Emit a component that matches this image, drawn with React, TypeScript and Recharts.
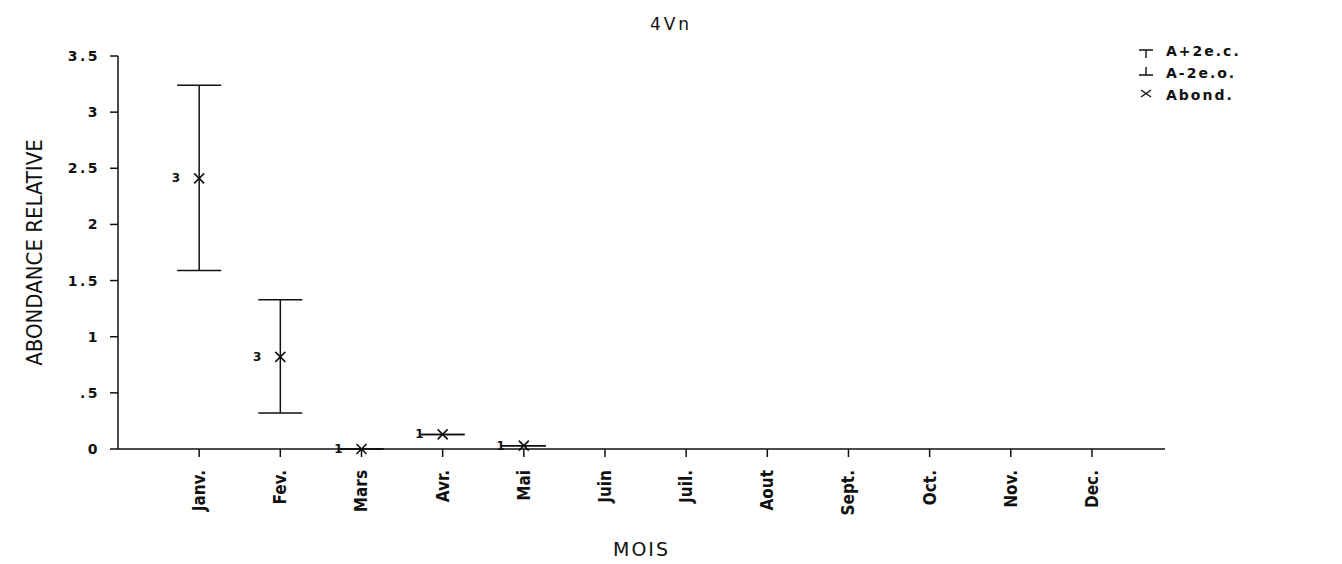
import { ComposedChart, Scatter, ErrorBar, XAxis, YAxis } from "recharts";

const months = ["Janv.", "Fev.", "Mars", "Avr.", "Mai", "Juin", "Juil.", "Aout", "Sept.", "Oct.", "Nov.", "Dec."];
const abond = [2.41, 0.82, 0, 0.13, 0.03];
const upper = [3.24, 1.33, 0, 0.13, 0.03];
const lower = [1.59, 0.32, 0, 0.13, 0.03];
const counts = [3, 3, 1, 1, 1];
const yTicks = [0, 0.5, 1, 1.5, 2, 2.5, 3, 3.5];
const legendItems = ["A+2e.c.", "A-2e.o.", "Abond."];

const data = abond.map((v, i) => ({
  x: i + 1,
  y: v,
  err: [v - lower[i], upper[i] - v],
  n: counts[i],
}));

const tickFont = { fontFamily: "DejaVu Sans", fontWeight: 700, fontSize: 14, fill: "#111", letterSpacing: 2.5 };

const fmtY = (v: number) => (v === 0 ? "0" : v < 1 ? String(v).replace(/^0/, "") : String(v));

function Cross(props: any) {
  const { cx, cy, payload } = props;
  if (cx == null || cy == null) return null;
  const s = 5;
  return (
    <g>
      <path d={`M${cx - s},${cy - s}L${cx + s},${cy + s}M${cx - s},${cy + s}L${cx + s},${cy - s}`} stroke="#111" strokeWidth={1.6} />
      <text x={cx - 19} y={cy + 4} textAnchor="end" style={{ ...tickFont, fontSize: 12, letterSpacing: 0 }}>
        {payload.n}
      </text>
    </g>
  );
}

function MonthTick(props: any) {
  const { x, y, payload } = props;
  return (
    <text
      x={x + 6}
      y={y + 11}
      transform={`rotate(-90 ${x + 6} ${y + 11})`}
      textAnchor="end"
      style={{ fontFamily: "DejaVu Sans Condensed", fontWeight: 700, fontSize: 17, fill: "#111" }}
    >
      {months[payload.value - 1]}
    </text>
  );
}

function LegendBox() {
  return (
    <svg width={210} height={80} style={{ position: "absolute", top: 40, left: 1136 }}>
      <g stroke="#111" strokeWidth={1.4}>
        <path d="M3,10L17,10M10,10L10,18" />
        <path d="M3,35L17,35M10,35L10,27" />
        <path d="M5,50L15,57M5,57L15,50" />
      </g>
      {legendItems.map((t, i) => (
        <text key={t} x={30} y={16 + i * 22} style={{ ...tickFont, fontSize: 14, letterSpacing: 2 }}>
          {t}
        </text>
      ))}
    </svg>
  );
}

export default function App() {
  return (
    <div style={{ width: 1342, height: 564, background: "#fff", position: "relative" }}>
      <style>{`body{margin:0}`}</style>
      <ComposedChart width={1342} height={564} margin={{ top: 56, right: 177, left: 0, bottom: 0 }}>
        <XAxis
          type="number"
          dataKey="x"
          domain={[0, 12.9]}
          ticks={months.map((_, i) => i + 1)}
          interval={0}
          tick={<MonthTick />}
          tickSize={8}
          height={115}
          stroke="#111"
          strokeWidth={1.5}
          label={{ value: "MOIS", position: "insideBottom", offset: 8, style: { fontFamily: "DejaVu Sans", fontSize: 19, fill: "#111", letterSpacing: 2 } }}
        />
        <YAxis
          type="number"
          domain={[0, 3.5]}
          ticks={yTicks}
          tickFormatter={fmtY}
          tick={tickFont}
          tickSize={8}
          tickMargin={10}
          width={118}
          stroke="#111"
          strokeWidth={1.5}
          label={{
            value: "ABONDANCE RELATIVE",
            angle: -90,
            position: "insideLeft",
            offset: 34,
            style: { textAnchor: "middle", fontFamily: "DejaVu Sans Condensed", fontSize: 22, fill: "#111" },
          }}
        />
        <Scatter data={data} dataKey="y" shape={<Cross />} isAnimationActive={false} legendType="none">
          <ErrorBar dataKey="err" direction="y" width={22} stroke="#111" strokeWidth={1.5} />
        </Scatter>
      </ComposedChart>
      <LegendBox />
      <div style={{ position: "absolute", top: 14, left: 0, width: 1342, textAlign: "center", fontFamily: "DejaVu Sans", fontSize: 17, letterSpacing: 3, color: "#111" }}>
        4Vn
      </div>
    </div>
  );
}
